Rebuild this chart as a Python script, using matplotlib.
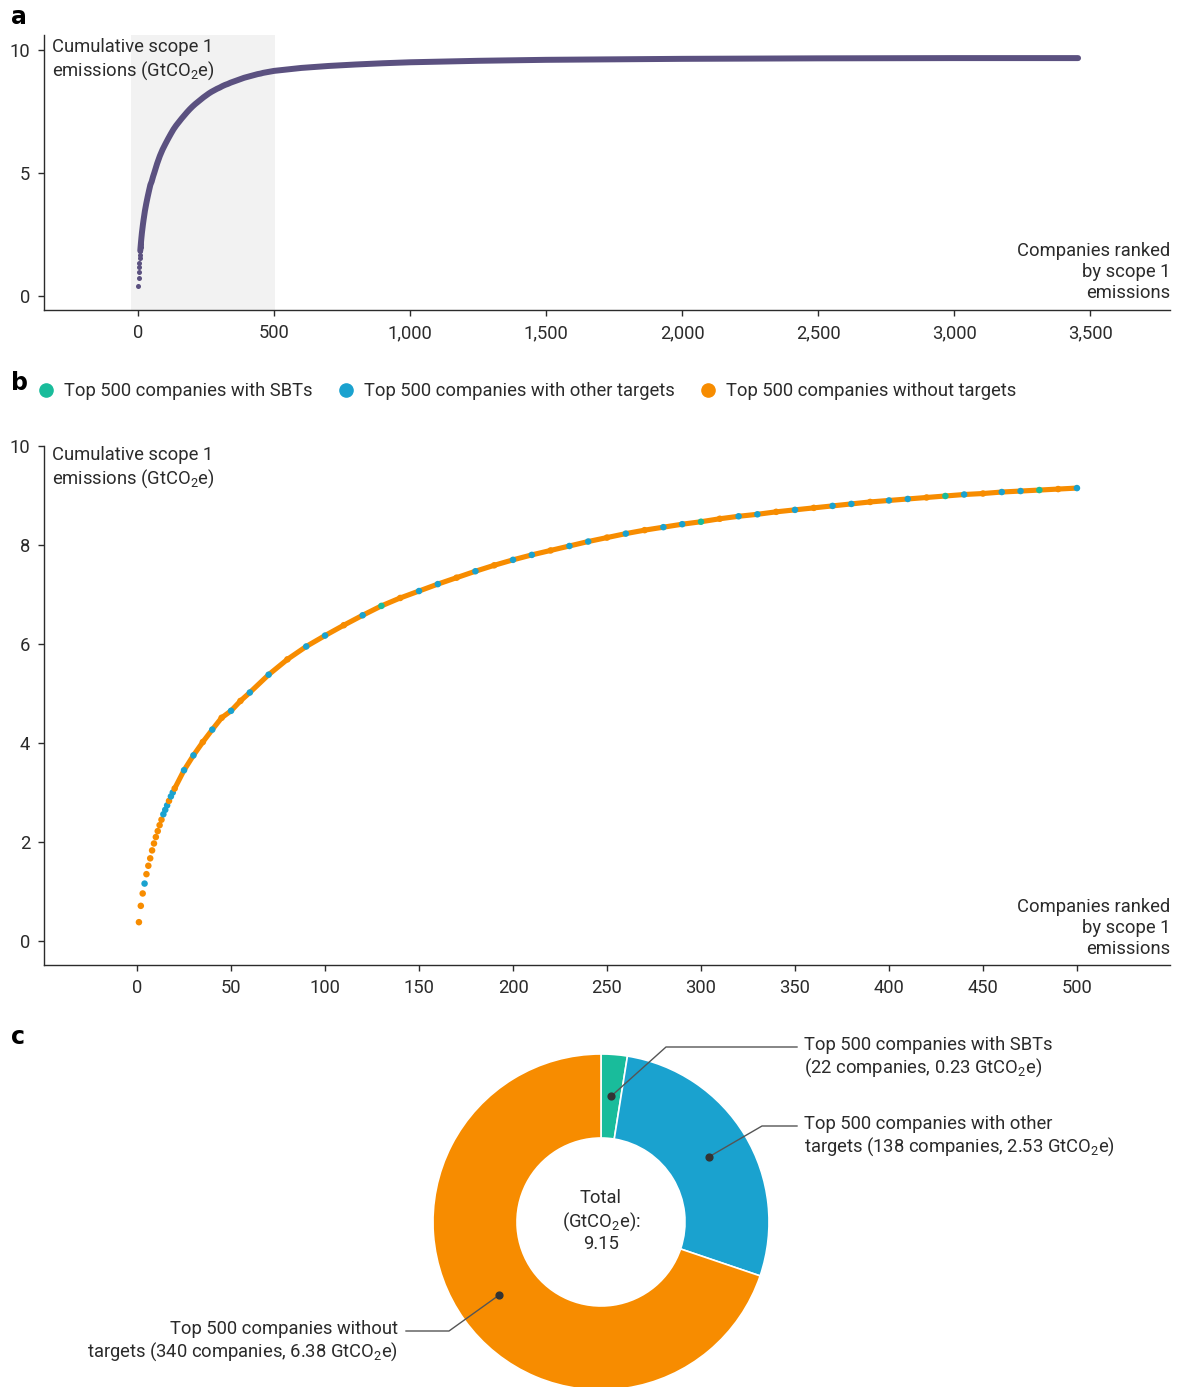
import numpy as np
import matplotlib
matplotlib.use("Agg")
import matplotlib.pyplot as plt
from matplotlib.lines import Line2D
from matplotlib.ticker import FuncFormatter

plt.rcParams['font.family'] = ['Roboto', 'DejaVu Sans']
plt.rcParams['mathtext.fontset'] = 'custom'
plt.rcParams['mathtext.rm'] = 'Roboto'
plt.rcParams['mathtext.it'] = 'Roboto'

# --- data ---
# panel b: cumulative scope 1 emissions of the top 500 companies (GtCO2e)
ranks_b = [1, 2, 3, 4, 5, 6, 7, 8, 9, 10, 11, 12, 13, 14, 15, 16, 17, 18, 19, 20,
           25, 30, 35, 40, 45, 50, 55, 60, 70, 80, 90, 100, 110, 120, 130, 140, 150,
           160, 170, 180, 190, 200, 210, 220, 230, 240, 250, 260, 270, 280, 290, 300,
           310, 320, 330, 340, 350, 360, 370, 380, 390, 400, 410, 420, 430, 440, 450,
           460, 470, 480, 490, 500]
cum_b = [0.38, 0.71, 0.96, 1.16, 1.35, 1.52, 1.67, 1.83, 1.97, 2.10, 2.22, 2.34, 2.45,
         2.56, 2.65, 2.74, 2.83, 2.92, 3.00, 3.08,
         3.45, 3.75, 4.02, 4.27, 4.51, 4.65, 4.85, 5.02, 5.38, 5.69, 5.95, 6.17, 6.38,
         6.58, 6.77, 6.93, 7.07, 7.21, 7.34, 7.47, 7.59, 7.70, 7.80, 7.89, 7.98, 8.07,
         8.15, 8.23, 8.30, 8.36, 8.42, 8.47, 8.53, 8.58, 8.62, 8.67, 8.71, 8.75, 8.79,
         8.83, 8.87, 8.90, 8.93, 8.96, 8.99, 9.02, 9.04, 9.07, 9.09, 9.11, 9.13, 9.15]
# target group at each rank above: S = SBT, T = other target, N = no target
group_b = list("NNNTNNNNNNNNNTTTNTTN"
               "TTNTNTNTTNTTNTSNTTNTNTTNTTNTNTTSNTTNTNTTNTTNSTNTTSNT")

# panel a: all companies
ranks_extra = [600, 700, 800, 900, 1000, 1250, 1500, 1750, 2000, 2500, 3000, 3456]
cum_extra = [9.27, 9.35, 9.41, 9.46, 9.50, 9.56, 9.60, 9.62, 9.64, 9.66, 9.67, 9.67]
ranks_a = ranks_b + ranks_extra
cum_a = cum_b + cum_extra

# panel c: split of the top 500
pie_labels = ["Top 500 companies with SBTs\n(22 companies, 0.23 GtCO$_2$e)",
              "Top 500 companies with other\ntargets (138 companies, 2.53 GtCO$_2$e)",
              "Top 500 companies without\ntargets (340 companies, 6.38 GtCO$_2$e)"]
pie_values = [0.23, 2.53, 6.38]
total = 9.15

legend_labels = ["Top 500 companies with SBTs", "Top 500 companies with other targets",
                 "Top 500 companies without targets"]

c_sbt, c_other, c_none = '#19bc9b', '#1aa2cf', '#f78c00'
group_col = {'S': c_sbt, 'T': c_other, 'N': c_none}
purple = '#5b5180'
dark = '#2b2b2b'
FS = 13.2
LS = 1.21

W, H = 1179, 1387
fig = plt.figure(figsize=(W / 100, H / 100), dpi=100)

# pixel-space axes for the donut
axc = fig.add_axes([0, 0, 1, 1])


def fx(px):
    return px / W


def fy(py):
    return 1 - py / H


def style_axes(ax):
    for s in ['top', 'right']:
        ax.spines[s].set_visible(False)
    for s in ['left', 'bottom']:
        ax.spines[s].set_color(dark)
        ax.spines[s].set_linewidth(1.0)
    ax.tick_params(direction='out', length=4, width=1.0, color=dark,
                   labelsize=FS, labelcolor=dark, pad=6)


comma = FuncFormatter(lambda v, p: f"{int(v):,}")
ylab = "Cumulative scope 1\nemissions (GtCO$_2$e)"
xlab = "Companies ranked\nby scope 1\nemissions"

# ---------------- panel a ----------------
axa = fig.add_axes([fx(44), fy(310), fx(1170) - fx(44), fy(35) - fy(310)])
style_axes(axa)
axa.axvspan(-25, 505, color='#f2f2f2', lw=0, zorder=0)
ra = np.array(ranks_a)
ca = np.array(cum_a)
axa.plot(ra[ra >= 8], ca[ra >= 8], color=purple, lw=4.3, solid_capstyle='round', zorder=2)
axa.scatter(ra[ra <= 12], ca[ra <= 12], s=13, color=purple, lw=0, zorder=3)
axa.set_xlim(-346, 3794)
axa.set_ylim(-0.58, 10.61)
axa.set_xticks(np.arange(0, 3501, 500))
axa.xaxis.set_major_formatter(comma)
axa.set_yticks([0, 5, 10])
axa.text(0.007, 0.99, ylab, transform=axa.transAxes, ha='left', va='top',
         fontsize=FS, color=dark, linespacing=LS)
axa.text(1.0, 0.138, xlab, transform=axa.transAxes, ha='right', va='center',
         fontsize=FS, color=dark, linespacing=LS)

# ---------------- panel b ----------------
axb = fig.add_axes([fx(44), fy(965), fx(1170) - fx(44), fy(446) - fy(965)])
style_axes(axb)
rb = np.array(ranks_b)
cb = np.array(cum_b)
axb.plot(rb[rb >= 20], cb[rb >= 20], color=c_none, lw=3.7, solid_capstyle='round', zorder=2)
cols = [group_col[g] for g in group_b]
axb.scatter(rb, cb, s=22, c=cols, lw=0, zorder=3)
axb.set_xlim(-49.5, 549.5)
axb.set_ylim(-0.485, 10)
axb.set_xticks(np.arange(0, 501, 50))
axb.set_yticks(np.arange(0, 11, 2))
axb.text(0.007, 1.0, ylab, transform=axb.transAxes, ha='left', va='top',
         fontsize=FS, color=dark, linespacing=LS)
axb.text(1.0, 0.071, xlab, transform=axb.transAxes, ha='right', va='center',
         fontsize=FS, color=dark, linespacing=LS)

handles = [Line2D([], [], marker='o', ls='', color=c, markersize=9.5)
           for c in [c_sbt, c_other, c_none]]
fig.legend(handles, legend_labels, loc='center left', bbox_to_anchor=(fx(38.7), fy(391)),
           ncol=3, frameon=False, fontsize=FS, handlelength=0.8, handletextpad=0.58,
           columnspacing=1.42, borderaxespad=0, borderpad=0, labelcolor=dark)

# ---------------- panel c ----------------
cx, cy, R = 601, H - 1222, 168
wedges, _ = axc.pie(pie_values, colors=[c_sbt, c_other, c_none], startangle=90,
                    counterclock=False, center=(cx, cy), radius=R,
                    wedgeprops=dict(width=R / 2, edgecolor='white', linewidth=1.2))
axc.set_xlim(0, W)
axc.set_ylim(0, H)
axc.set_aspect('auto')
axc.axis('off')

# leader lines: start at mid-angle of each wedge
elbows = [(666, 1047, 797), (762, 1126, 797), (449, 1331, 406)]
text_pos = [(804, 'left'), (804, 'left'), (398, 'right')]
mid_r = 0.75 * R
for w, (ex, ey, hx), (tx, ha), lab in zip(wedges, elbows, text_pos, pie_labels):
    ang = np.deg2rad((w.theta1 + w.theta2) / 2)
    dx, dy = cx + mid_r * np.cos(ang), cy + mid_r * np.sin(ang)
    axc.plot([dx, ex, hx], [dy, H - ey, H - ey], color='#555555', lw=1.0, zorder=5)
    axc.scatter([dx], [dy], s=24, color='#333333', zorder=6)
    axc.text(tx, H - ey - 10.5, lab, ha=ha, va='center', fontsize=FS, color=dark,
             linespacing=LS)

axc.text(cx, cy + 1, f"Total\n(GtCO$_2$e):\n{total}", ha='center', va='center',
         fontsize=FS, color=dark, linespacing=LS)

# panel letters
for letter, py in [('a', 17), ('b', 383), ('c', 1037)]:
    fig.text(fx(11), fy(py), letter, fontsize=17, fontweight='heavy', color='black',
             ha='left', va='center', family=['DejaVu Sans'])

fig.savefig('out.png', dpi=100)
